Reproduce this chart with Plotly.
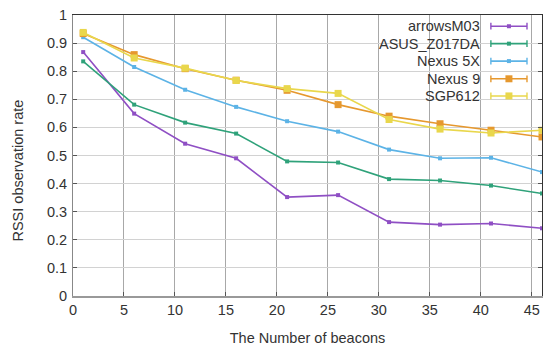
import plotly.graph_objects as go

beacons = [1, 6, 11, 16, 21, 26, 31, 36, 41, 46]
series_names = ["arrowsM03", "ASUS_Z017DA", "Nexus 5X", "Nexus 9", "SGP612"]
arrowsM03 = [0.868, 0.649, 0.542, 0.490, 0.352, 0.359, 0.263, 0.254, 0.258, 0.241]
asus = [0.835, 0.681, 0.617, 0.578, 0.479, 0.475, 0.416, 0.411, 0.393, 0.365]
nexus5x = [0.921, 0.815, 0.734, 0.673, 0.622, 0.585, 0.521, 0.490, 0.492, 0.441]
nexus9 = [0.934, 0.859, 0.809, 0.768, 0.732, 0.681, 0.640, 0.613, 0.590, 0.566]
sgp612 = [0.938, 0.847, 0.811, 0.767, 0.738, 0.721, 0.628, 0.594, 0.580, 0.590]
x_ticks = [0, 5, 10, 15, 20, 25, 30, 35, 40, 45]
y_ticks = [0, 0.1, 0.2, 0.3, 0.4, 0.5, 0.6, 0.7, 0.8, 0.9, 1]
y_tick_labels = ["0", "0.1", "0.2", "0.3", "0.4", "0.5", "0.6", "0.7", "0.8", "0.9", "1"]

values = [arrowsM03, asus, nexus5x, nexus9, sgp612]
colors = ["#8f4fc4", "#2fa27a", "#5cb3e6", "#e6982e", "#e9d74c"]
msizes = [4, 4, 4, 7, 7]

FONT = "Liberation Sans, Arial, Helvetica, sans-serif"
TXT = "#333333"
FS = 14.5

fig = go.Figure()
for name, vals, c, ms in zip(series_names, values, colors, msizes):
    fig.add_trace(go.Scatter(
        x=beacons, y=vals, name=name, mode="lines+markers",
        line=dict(color=c, width=1.6),
        marker=dict(symbol="square", size=ms, color=c),
        showlegend=False, cliponaxis=False,
    ))

shapes = []
annotations = []
# legend box
shapes.append(dict(type="rect", xref="paper", yref="paper", x0=0.676, x1=0.987,
                   y0=0.686, y1=0.998, fillcolor="white", line=dict(width=0),
                   layer="between"))
row_y = [0.960, 0.898, 0.836, 0.773, 0.712]
lx0, lx1 = 0.891, 0.968
for name, c, ms, yy in zip(series_names, colors, msizes, row_y):
    annotations.append(dict(text=name, xref="paper", yref="paper", x=0.872, y=yy,
                            xanchor="right", yanchor="middle", showarrow=False,
                            font=dict(family=FONT, size=FS, color=TXT)))
    shapes.append(dict(type="line", xref="paper", yref="paper", x0=lx0, x1=lx1,
                       y0=yy, y1=yy, line=dict(color=c, width=1.6), layer="above"))
    for xe in (lx0, lx1):
        shapes.append(dict(type="line", xref="paper", yref="paper", x0=xe, x1=xe,
                           y0=yy - 0.012, y1=yy + 0.012, line=dict(color=c, width=1.4),
                           layer="above"))
    hw = ms / 2 / 469
    hh = ms / 2 / 281
    xm = (lx0 + lx1) / 2
    shapes.append(dict(type="rect", xref="paper", yref="paper", x0=xm - hw, x1=xm + hw,
                       y0=yy - hh, y1=yy + hh, fillcolor=c, line=dict(width=0),
                       layer="above"))

annotations.append(dict(text="RSSI observation rate", xref="paper", yref="paper",
                        x=-0.117, y=0.447, textangle=-90, xanchor="center",
                        yanchor="middle", showarrow=False,
                        font=dict(family=FONT, size=FS, color=TXT)))

fig.update_layout(
    width=543, height=347,
    margin=dict(l=73, r=1, t=15, b=51),
    paper_bgcolor="white", plot_bgcolor="white",
    font=dict(family=FONT, size=FS, color=TXT),
    shapes=shapes, annotations=annotations,
    xaxis=dict(range=[0, 46], tickvals=x_ticks, ticks="inside", ticklen=4,
               tickcolor="#555555", showgrid=True, gridcolor="#a8a8a8", gridwidth=1,
               showline=True, linecolor="#999999", linewidth=2, mirror=False,
               zeroline=False, ticklabelstandoff=0,
               title=dict(text="The Number of beacons", standoff=15,
                          font=dict(family=FONT, size=FS, color=TXT))),
    xaxis2=dict(overlaying="x", side="top", showline=True, linecolor="#333333",
                linewidth=1.2, showticklabels=False, showgrid=False, zeroline=False,
                range=[0, 46]),
    yaxis=dict(range=[0, 1], tickvals=y_ticks, ticktext=y_tick_labels, ticks="inside",
               ticklen=4, tickcolor="#555555", showgrid=True, gridcolor="#d2d2d2",
               gridwidth=1, showline=True, linecolor="#888888", linewidth=1,
               mirror=False, zeroline=False, ticklabelstandoff=2),
    yaxis2=dict(overlaying="y", side="right", showline=True, linecolor="#333333",
                linewidth=1.2, showticklabels=False, showgrid=False, zeroline=False,
                range=[0, 1], tickvals=y_ticks, ticks="inside", ticklen=4,
                tickcolor="#555555"),
)
# dummy invisible trace to activate top/right axes
fig.add_trace(go.Scatter(x=[None], y=[None], xaxis="x2", yaxis="y2", showlegend=False,
                         hoverinfo="skip"))

fig.write_html("out.html", config={"displayModeBar": False},
               post_script="document.body.style.margin='0';document.body.style.overflow='hidden';")
